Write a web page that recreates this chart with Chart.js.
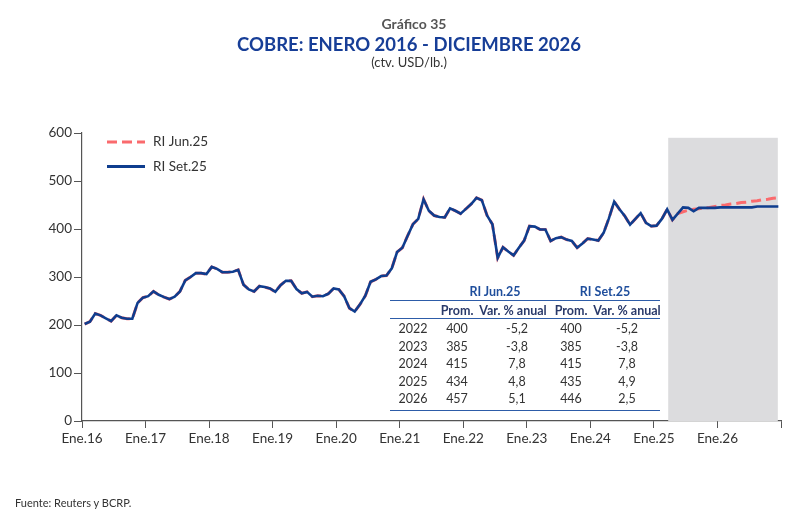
<!DOCTYPE html>
<html lang="es">
<head>
<meta charset="utf-8">
<title>Cobre: enero 2016 - diciembre 2026</title>
<script src="https://cdn.jsdelivr.net/npm/chart.js@4.4.1/dist/chart.umd.min.js"></script>
<style>
  body { margin: 0; background: #fff; font-family: Lato, "Open Sans", sans-serif; }
  #wrap { position: relative; width: 800px; height: 518px; overflow: hidden; }
  #chart { position: absolute; left: 0; top: 0; }
  .t { position: absolute; white-space: nowrap; }
  .center { text-align: center; }
  #num { position: absolute; left: 0; top: 15px; width: 828px; font-size: 14px; font-weight: bold; color: #555; }
  #title { position: absolute; left: 0; top: 33px; width: 818px; font-size: 18.5px; font-weight: bold; color: #173e97; }
  #unit { position: absolute; left: 0; top: 54px; width: 818px; font-size: 13px; color: #333; }
  #source { left: 15px; top: 496px; font-size: 11px; color: #333; }
  .cell { position: absolute; width: 80px; text-align: center; font-size: 12.5px; line-height: 14px; color: #333; }
  .head { font-weight: bold; color: #1f4e9c; }
  .sub { font-weight: bold; color: #2a3a6a; }
  .rule { position: absolute; left: 390px; width: 270px; height: 1.3px; background: #2d5ca8; }
</style>
</head>
<body>
<div id="wrap">
  <canvas id="chart" width="800" height="518"></canvas>
  <div id="num" class="t center">Gráfico 35</div>
  <div id="title" class="t center">COBRE: ENERO 2016 - DICIEMBRE 2026</div>
  <div id="unit" class="t center">(ctv. USD/lb.)</div>
  <div id="table"></div>
  <div id="source" class="t">Fuente: Reuters y BCRP.</div>
</div>
<script>
// ene.16 - may.25, promedio mensual (ctv. USD/lb.)
var historico = [
  202, 207, 224, 220, 214, 208, 220, 215, 213, 213, 246, 257,
  260, 270, 263, 258, 254, 259, 270, 293, 300, 308, 308, 306,
  321, 317, 310, 310, 311, 315, 284, 274, 270, 281, 279, 276,
  269, 283, 292, 292, 275, 266, 269, 259, 261, 260, 265, 276,
  274, 260, 235, 228, 243, 261, 290, 295, 302, 303, 318, 352,
  361, 386, 410, 421, 462, 438, 428, 425, 424, 443, 438, 432,
  442, 452, 465, 460, 428, 410, 340, 362, 353, 345, 361, 376,
  406, 405, 399, 399, 375, 381, 383, 378, 375, 361, 370, 380,
  378, 376, 392, 422, 457, 441, 427, 409, 421, 433, 413, 406,
  407, 421, 441, 419, 432
];
// jun.25 - dic.26
var proyJun25 = [
  436, 439, 441, 442, 444, 445, 447,
  449, 450, 452, 453, 455, 456, 458, 459, 461, 462, 464, 465
];
var proySet25 = [
  445, 444, 437, 444, 444, 444, 444,
  445, 445, 445, 445, 445, 445, 445, 447, 447, 447, 447, 447
];
var riJun25 = historico.concat(proyJun25);
var riSet25 = historico.concat(proySet25);

var xTickLabels = ['Ene.16', 'Ene.17', 'Ene.18', 'Ene.19', 'Ene.20', 'Ene.21',
  'Ene.22', 'Ene.23', 'Ene.24', 'Ene.25', 'Ene.26', ''];
var seriesNames = ['RI Jun.25', 'RI Set.25'];

var tableYears = ['2022', '2023', '2024', '2025', '2026'];
var jun25Prom = ['400', '385', '415', '434', '457'];
var jun25Var = ['-5,2', '-3,8', '7,8', '4,8', '5,1'];
var set25Prom = ['400', '385', '415', '435', '446'];
var set25Var = ['-5,2', '-3,8', '7,8', '4,9', '2,5'];

var blue = '#0f3d8e';
var red = '#fa6a6d';
var font = { family: 'Lato', size: 13.5 };

function toPoints(values) {
  return values.map(function (v, i) { return { x: i + 0.5, y: v }; });
}

// zona de proyeccion
var shade = {
  id: 'shade',
  beforeDatasetsDraw: function (chart) {
    var ctx = chart.ctx, x = chart.scales.x, y = chart.scales.y;
    var left = x.getPixelForValue(110.7), right = x.getPixelForValue(131.4);
    var top = y.getPixelForValue(590), bottom = y.getPixelForValue(0);
    ctx.save();
    ctx.fillStyle = '#dcdcde';
    ctx.fillRect(left, top, right - left, bottom - top);
    ctx.restore();
  }
};

var legendBox = {
  id: 'legendBox',
  afterDatasetsDraw: function (chart) {
    var ctx = chart.ctx;
    ctx.save();
    chart.data.datasets.forEach(function (ds, i) {
      var y = 142 + i * 24.5;
      ctx.beginPath();
      ctx.setLineDash(ds.borderDash || []);
      ctx.strokeStyle = ds.borderColor;
      ctx.lineWidth = 2.8;
      ctx.moveTo(107, y);
      ctx.lineTo(145, y);
      ctx.stroke();
      ctx.setLineDash([]);
      ctx.fillStyle = '#333';
      ctx.font = '13.5px Lato';
      ctx.textBaseline = 'middle';
      ctx.fillText(ds.label, 153, y);
    });
    ctx.restore();
  }
};

new Chart(document.getElementById('chart'), {
  type: 'line',
  data: {
    datasets: [
      {
        label: seriesNames[0],
        data: toPoints(riJun25),
        borderColor: red,
        borderWidth: 3,
        borderDash: [10, 5],
        pointRadius: 0,
        tension: 0,
        order: 1
      },
      {
        label: seriesNames[1],
        data: toPoints(riSet25),
        borderColor: blue,
        borderWidth: 2.6,
        pointRadius: 0,
        tension: 0,
        order: 0
      }
    ]
  },
  options: {
    responsive: false,
    animation: false,
    layout: { padding: { left: 0, right: 19, top: 133, bottom: 57 } },
    plugins: {
      legend: { display: false },
      tooltip: { enabled: false }
    },
    scales: {
      x: {
        type: 'linear',
        min: 0,
        max: 132,
        afterBuildTicks: function (scale) {
          scale.ticks = xTickLabels.map(function (_, i) { return { value: i * 12 }; });
        },
        afterFit: function (scale) { scale.height = 40; },
        ticks: {
          autoSkip: false,
          maxRotation: 0,
          padding: 3,
          color: '#333',
          font: font,
          callback: function (value, index) { return xTickLabels[index]; }
        },
        grid: { drawOnChartArea: false, drawTicks: true, tickLength: 7, color: '#555', lineWidth: 1 },
        border: { color: '#555', width: 1.2 }
      },
      y: {
        min: 0,
        max: 600,
        afterFit: function (scale) { scale.width = 82; },
        ticks: { stepSize: 100, padding: 2, color: '#333', font: font },
        grid: { drawOnChartArea: false, drawTicks: true, tickLength: 8, color: '#555', lineWidth: 1 },
        border: { color: '#555', width: 1.2 }
      }
    }
  },
  plugins: [shade, legendBox]
});

// cuadro de promedios
(function () {
  var table = document.getElementById('table');
  var cols = [413, 457, 513, 571, 627];
  function cell(text, x, y, cls) {
    var el = document.createElement('div');
    el.className = 'cell' + (cls ? ' ' + cls : '');
    el.style.left = (x - 40) + 'px';
    el.style.top = (y - 7) + 'px';
    el.textContent = text;
    table.appendChild(el);
  }
  function rule(y, h) {
    var el = document.createElement('div');
    el.className = 'rule';
    el.style.top = y + 'px';
    if (h) el.style.height = h + 'px';
    table.appendChild(el);
  }
  cell(seriesNames[0], 495, 291.5, 'head');
  cell(seriesNames[1], 605, 291.5, 'head');
  rule(300);
  ['Prom.', 'Var. % anual', 'Prom.', 'Var. % anual'].forEach(function (t, i) {
    cell(t, cols[i + 1], 311, 'sub');
  });
  rule(318, 0.8);
  tableYears.forEach(function (yr, r) {
    var y = 329.3 + r * 17.5;
    cell(yr, cols[0], y);
    cell(jun25Prom[r], cols[1], y);
    cell(jun25Var[r], cols[2] + 4, y);
    cell(set25Prom[r], cols[3], y);
    cell(set25Var[r], cols[4], y);
  });
  rule(409.5);
})();
</script>
</body>
</html>
